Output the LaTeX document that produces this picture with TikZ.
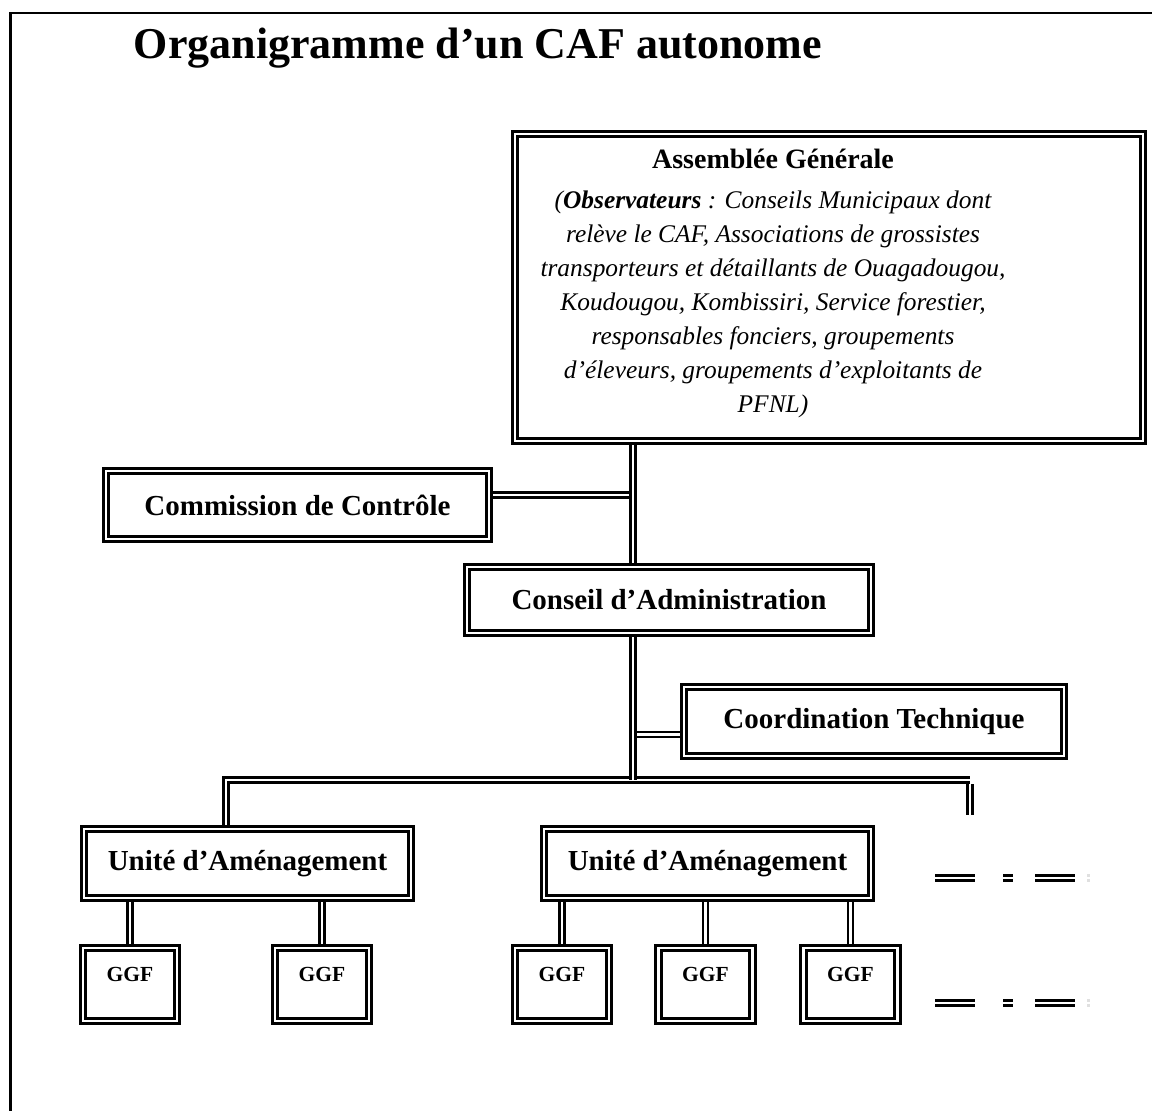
\documentclass[tikz,border=0pt]{standalone}
\usepackage{fontspec}
\setmainfont{Liberation Serif}
\usetikzlibrary{backgrounds}
\begin{document}
\begin{tikzpicture}[x=1pt,y=-1pt,
  box/.style={draw, double, line width=3pt, double distance=2.2pt, fill=white,
    inner sep=0pt, font=\fontsize{29}{34}\selectfont\bfseries},
  ggf/.style={box, minimum width=94pt, minimum height=73pt},
  ggflabel/.style={yshift=10pt, font=\fontsize{21.5}{24}\selectfont\bfseries},
  link/.style={draw, double, line width=2.6pt, double distance=2.2pt},
  faintlink/.style={link, draw=black!12},
  frame/.style={draw, line width=2.8pt}
]
\useasboundingbox (0,0) rectangle (1152,1111);

% page frame (only top and left edges fall inside the page)
\coordinate (fa) at (10.5,1111);
\coordinate (fb) at (10.5,13);
\coordinate (fc) at (1152,13);
\draw[frame] (fa) -- (fb) -- (fc);

% title
\node[font=\fontsize{44}{50}\selectfont\bfseries] (title) at (478,48) {Organigramme d’un CAF autonome};

% junction points of the trunk and the bus
\coordinate (t) at (633,0);
\coordinate (bl) at (226,780);
\coordinate (br) at (970,780);
\coordinate (s1) at (970,784);
\coordinate (s2) at (970,815);

% boxes
\node[box, minimum width=628pt, minimum height=307pt] (ag) at (829,287.5) {};
\node[align=center, font=\fontsize{25.4}{34}\selectfont\itshape] (agtext) at (773,283)
  {{\fontsize{28}{34}\selectfont\bfseries\upshape Assemblée Générale}\\[6pt]
   (\textbf{Observateurs} : Conseils Municipaux dont\\
   relève le CAF, Associations de grossistes\\
   transporteurs et détaillants de Ouagadougou,\\
   Koudougou, Kombissiri, Service forestier,\\
   responsables fonciers, groupements\\
   d’éleveurs, groupements d’exploitants de\\
   PFNL)};
\node[box, minimum width=383pt, minimum height=68pt] (cc) at (297.5,505) {Commission de Contrôle};
\node[box, minimum width=404pt, minimum height=66pt] (cda) at (669,600) {Conseil d’Administration};
\node[box, minimum width=380pt, minimum height=69pt] (ct) at (874,721.5) {Coordination Technique};
\node[box, minimum width=327pt, minimum height=69pt] (ua1) at (247.5,863.5) {Unité d’Aménagement};
\node[box, minimum width=327pt, minimum height=69pt] (ua2) at (707.5,863.5) {Unité d’Aménagement};
\node[ggf, label={[ggflabel]center:GGF}] (g1) at (130,984.5) {};
\node[ggf, label={[ggflabel]center:GGF}] (g2) at (322,984.5) {};
\node[ggf, label={[ggflabel]center:GGF}] (g3) at (562,984.5) {};
\node[ggf, label={[ggflabel]center:GGF}] (g4) at (705.5,984.5) {};
\node[ggf, label={[ggflabel]center:GGF}] (g5) at (850.5,984.5) {};

% connectors, kept behind the boxes; side branches before the trunk
\begin{scope}[on background layer]
  \draw[link] ([yshift=10pt]cc.east) -- ([yshift=10pt]cc.east -| t);
  \draw[link] ([yshift=-13pt]ct.west) -- ([yshift=-13pt]ct.west -| t);
  \draw[link] (ua1.north -| bl) -- (bl) -- (br);
  \draw[link] (ag.south -| t) -- (cda.north -| t);
  \draw[link] (cda.south -| t) -- (bl -| t);
  \draw[link] (s1) -- (s2);
  \draw[link] (ua1.south -| g1.north) -- (g1.north);
  \draw[link] (ua1.south -| g2.north) -- (g2.north);
  \draw[link] (ua2.south -| g3.north) -- (g3.north);
  \draw[link] (ua2.south -| g4.north) -- (g4.north);
  \draw[link] (ua2.south -| g5.north) -- (g5.north);
\end{scope}

% broken double lines continuing the rows to the right
\foreach \row in {878,1003} {
  \coordinate (d1a) at (935,\row);  \coordinate (d1b) at (975,\row);
  \coordinate (d2a) at (1003,\row); \coordinate (d2b) at (1013,\row);
  \coordinate (d3a) at (1035,\row); \coordinate (d3b) at (1075,\row);
  \coordinate (d4a) at (1087,\row); \coordinate (d4b) at (1090,\row);
  \draw[link] (d1a) -- (d1b);
  \draw[link] (d2a) -- (d2b);
  \draw[link] (d3a) -- (d3b);
  \draw[faintlink] (d4a) -- (d4b);
}
\end{tikzpicture}
\end{document}
